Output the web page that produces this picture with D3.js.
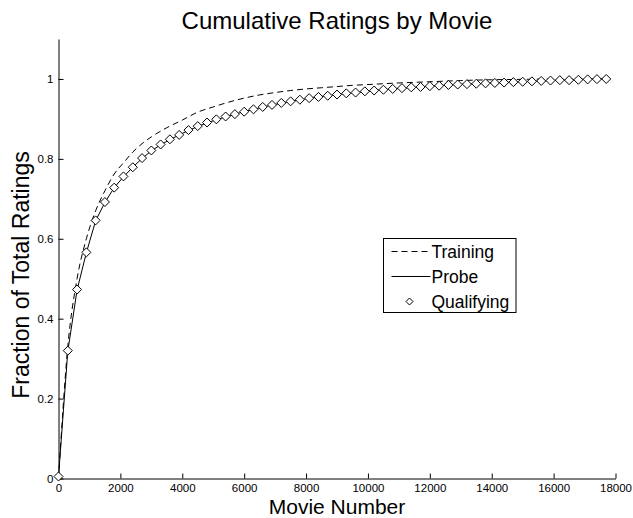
<!DOCTYPE html>
<html>
<head>
<meta charset="utf-8">
<script src="https://cdn.jsdelivr.net/npm/d3@7"></script>
<style>
  body { margin: 0; background: #fff; }
  svg { font-family: "Liberation Sans", Arial, Helvetica, sans-serif; }
</style>
</head>
<body>
<svg id="chart" width="633" height="518"></svg>
<script>
// sample positions (movie number) for probe / qualifying
const movieNums = d3.range(0, 17701, 300);

const qualifying = [
  0.005, 0.320, 0.473, 0.566, 0.646, 0.692, 0.728, 0.756, 0.779, 0.802,
  0.821, 0.836, 0.849, 0.860, 0.872, 0.882, 0.891, 0.899, 0.906, 0.912,
  0.918, 0.924, 0.930, 0.935, 0.940, 0.944, 0.948, 0.952, 0.955, 0.958,
  0.961, 0.964, 0.966, 0.969, 0.971, 0.973, 0.975, 0.977, 0.979, 0.980,
  0.982, 0.983, 0.985, 0.986, 0.987, 0.988, 0.989, 0.990, 0.991, 0.992,
  0.993, 0.994, 0.995, 0.996, 0.997, 0.997, 0.998, 0.999, 0.9995, 1.000
];

const probe = [
  0.005, 0.318, 0.472, 0.565, 0.645, 0.691, 0.728, 0.755, 0.779, 0.801,
  0.820, 0.835, 0.848, 0.860, 0.871, 0.881, 0.890, 0.898, 0.905, 0.912,
  0.918, 0.924, 0.929, 0.935, 0.939, 0.944, 0.948, 0.951, 0.955, 0.958,
  0.961, 0.963, 0.966, 0.968, 0.971, 0.973, 0.975, 0.977, 0.978, 0.980,
  0.982, 0.983, 0.985, 0.986, 0.987, 0.988, 0.989, 0.990, 0.991, 0.992,
  0.993, 0.994, 0.995, 0.996, 0.997, 0.997, 0.998, 0.999, 0.9995, 1.000
];

const trainingX = [0, 300, 600, 900, 1200, 1500, 1800, 2100, 2400, 2700, 3000, 3500,
  4000, 4500, 5000, 5500, 6000, 6500, 7000, 7500, 8000, 8500, 9000, 9500, 10000,
  11000, 12000, 13000, 14000, 15000, 16000, 17770];
const trainingY = [0.0, 0.33, 0.50, 0.60, 0.67, 0.72, 0.762, 0.79, 0.817, 0.838, 0.855, 0.878,
  0.897, 0.917, 0.930, 0.942, 0.952, 0.960, 0.966, 0.971, 0.975, 0.978, 0.981, 0.984, 0.986,
  0.990, 0.993, 0.996, 0.998, 0.999, 1.0, 1.0];

const xTicks = d3.range(0, 18001, 2000);
const yTicks = [0, 0.2, 0.4, 0.6, 0.8, 1];

const svg = d3.select("#chart");
const mLeft = 58.5, mRight = 615.5, mTop = 39, mBottom = 478.5;

const x = d3.scaleLinear().domain([0, 18000]).range([mLeft, mRight]);
const y = d3.scaleLinear().domain([0, 1.1]).range([mBottom, mTop]);

// axes (MATLAB style: ticks pointing inward, no box)
const xAxis = svg.append("g")
  .attr("transform", `translate(0,${mBottom})`)
  .call(d3.axisBottom(x).tickValues(xTicks).tickSizeInner(-5).tickSizeOuter(0).tickPadding(5).tickFormat(d3.format("d")));
const yAxis = svg.append("g")
  .attr("transform", `translate(${mLeft},0)`)
  .call(d3.axisLeft(y).tickValues(yTicks).tickSizeInner(-5).tickSizeOuter(0).tickPadding(5).tickFormat(d => d));

[xAxis, yAxis].forEach(a => {
  a.select(".domain").attr("stroke", "#000").attr("stroke-width", 1);
  a.selectAll(".tick line").attr("stroke", "#000");
  a.selectAll(".tick text").attr("fill", "#000").style("font-size", "11.5px")
    .style("font-family", "'Liberation Sans', Arial, sans-serif");
});
xAxis.selectAll(".tick text").attr("dy", "0.71em");

// training curve (dashed)
const line = d3.line().x(d => x(d[0])).y(d => y(d[1])).curve(d3.curveMonotoneX);
svg.append("path")
  .datum(d3.zip(trainingX, trainingY))
  .attr("d", line)
  .attr("fill", "none")
  .attr("stroke", "#000")
  .attr("stroke-width", 1)
  .attr("stroke-dasharray", "6,4");

// probe (solid)
svg.append("path")
  .datum(d3.zip(movieNums, probe))
  .attr("d", d3.line().x(d => x(d[0])).y(d => y(d[1])))
  .attr("fill", "none")
  .attr("stroke", "#000")
  .attr("stroke-width", 1);

// qualifying (diamonds)
const dia = (cx, cy, r) => `M${cx},${cy - r}L${cx + r},${cy}L${cx},${cy + r}L${cx - r},${cy}Z`;
svg.append("g").selectAll("path")
  .data(d3.zip(movieNums, qualifying))
  .join("path")
  .attr("d", d => dia(x(d[0]), y(d[1]), 4.5))
  .attr("fill", "#fff")
  .attr("stroke", "#000")
  .attr("stroke-width", 1);

// title and labels
svg.append("text")
  .attr("x", (mLeft + mRight) / 2).attr("y", 29)
  .attr("text-anchor", "middle")
  .style("font-size", "24px")
  .text("Cumulative Ratings by Movie");

svg.append("text")
  .attr("x", (mLeft + mRight) / 2).attr("y", 513.5)
  .attr("text-anchor", "middle")
  .style("font-size", "21px")
  .text("Movie Number");

svg.append("text")
  .attr("transform", `translate(29,275) rotate(-90)`)
  .attr("text-anchor", "middle")
  .style("font-size", "23px")
  .text("Fraction of Total Ratings");

// legend
const lg = svg.append("g").attr("transform", "translate(383.5,238.5)");
lg.append("rect").attr("width", 132.5).attr("height", 74)
  .attr("fill", "#fff").attr("stroke", "#000").attr("stroke-width", 1);
const items = [
  { name: "Training", dash: "6,4" },
  { name: "Probe", dash: null },
  { name: "Qualifying", marker: true }
];
items.forEach((it, i) => {
  const cy = 13 + i * 25;
  if (it.marker) {
    lg.append("path").attr("d", dia(26, cy, 3.5))
      .attr("fill", "#fff").attr("stroke", "#000");
  } else {
    lg.append("line").attr("x1", 8).attr("x2", 47).attr("y1", cy).attr("y2", cy)
      .attr("stroke", "#000").attr("stroke-dasharray", it.dash);
  }
  lg.append("text").attr("x", 48).attr("y", cy).attr("dy", "0.35em")
    .style("font-size", "17.5px").text(it.name);
});
</script>
</body>
</html>
